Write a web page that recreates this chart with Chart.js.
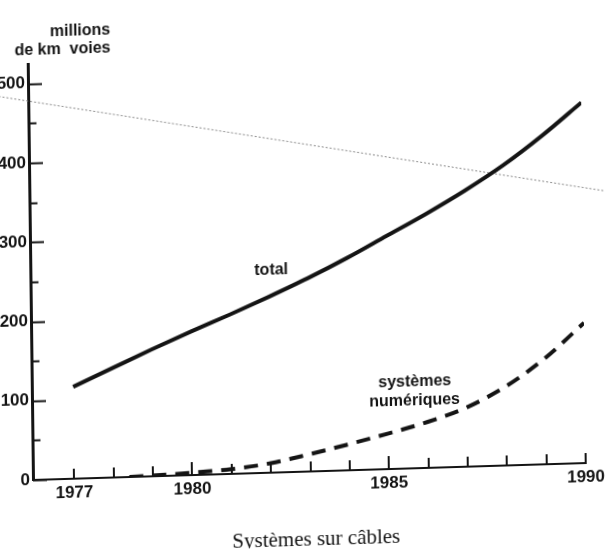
<!DOCTYPE html>
<html lang="fr">
<head>
<meta charset="utf-8">
<title>Systèmes sur câbles</title>
<script src="https://cdn.jsdelivr.net/npm/chart.js@4.4.1/dist/chart.umd.min.js"></script>
<style>
  html, body { margin: 0; padding: 0; background: #fff; overflow: hidden; }
  #wrap { width: 609px; height: 555px; }
  /* the scanned page is a little skewed: x axis rises to the right, y axis leans left */
  #chart { display: block; transform-origin: 33px 480px; transform: matrix(1, -0.0306, 0.0126, 1, 0, 0); }
</style>
</head>
<body>
<div id="wrap"><canvas id="chart" width="609" height="555"></canvas></div>
<script>
const years = [1977, 1978, 1979, 1980, 1981, 1982, 1983, 1984, 1985, 1986, 1987, 1988, 1989, 1990];
const total = [116, 138, 160, 181, 201, 222, 244, 268, 294, 320, 348, 379, 415, 455];

const numYears = [1978.4, 1979, 1980, 1981, 1982, 1983, 1984, 1985, 1986, 1987, 1988, 1989, 1990];
const numeriques = [0, 1, 3, 6, 12, 22, 33, 45, 58, 75, 100, 134, 177];

// faint dotted line running across the scan
const refYears = [1975, 1991.5];
const refLine = [487, 334];

const xLabelYears = [1977, 1980, 1985, 1990];
const yTicks = [0, 50, 100, 150, 200, 250, 300, 350, 400, 450, 500];
const yLabels = [0, 100, 200, 300, 400, 500];

const INK = '#141414';
const SANS = '"Liberation Sans", Arial, sans-serif';

const toPoints = (xs, ys) => xs.map((x, i) => ({x, y: ys[i]}));

const inkPlugin = {
    id: 'ink',
    afterDraw(chart) {
        const {ctx, chartArea, scales: {x, y}} = chart;
        ctx.save();
        ctx.strokeStyle = INK;
        ctx.lineWidth = 2;
        ctx.lineCap = 'butt';

        // tick marks point inwards, like the original drawing
        yTicks.forEach(v => {
            const py = Math.round(y.getPixelForValue(v)) + 0.5;
            const len = yLabels.includes(v) ? 14 : 8;
            ctx.beginPath();
            ctx.moveTo(chartArea.left, py);
            ctx.lineTo(chartArea.left + len, py);
            ctx.stroke();
        });
        years.forEach(v => {
            const px = Math.round(x.getPixelForValue(v));
            const len = (v === 1980 || v === 1985) ? 13 : 10;
            ctx.beginPath();
            ctx.moveTo(px, chartArea.bottom);
            ctx.lineTo(px, chartArea.bottom - len);
            ctx.stroke();
        });

        ctx.fillStyle = INK;
        ctx.font = '700 16px ' + SANS;
        ctx.textBaseline = 'alphabetic';

        // unit, above the y axis
        ctx.textAlign = 'right';
        ctx.fillText('millions', chartArea.left + 83, chartArea.top - 27);
        ctx.fillText('de km  voies', chartArea.left + 83, chartArea.top - 9);

        ctx.textAlign = 'center';
        ctx.textBaseline = 'middle';
        ctx.fillText('total', x.getPixelForValue(1982.07), y.getPixelForValue(256));
        ctx.fillText('systèmes', x.getPixelForValue(1985.68), y.getPixelForValue(109));
        ctx.fillText('numériques', x.getPixelForValue(1985.67), y.getPixelForValue(85));

        ctx.font = '21px "Liberation Serif", "Times New Roman", serif';
        ctx.fillText('Systèmes sur câbles', (chartArea.left + chartArea.right) / 2 + 6, chartArea.bottom + 68);
        ctx.restore();
    }
};

const ctx = document.getElementById('chart').getContext('2d');
const chart = new Chart(ctx, {
    type: 'line',
    data: {
        datasets: [{
            label: 'total',
            data: toPoints(years, total),
            borderColor: INK,
            borderWidth: 4,
            cubicInterpolationMode: 'monotone',
            pointRadius: 0
        }, {
            label: 'systèmes numériques',
            data: toPoints(numYears, numeriques),
            borderColor: INK,
            borderWidth: 4,
            borderDash: [14, 9],
            cubicInterpolationMode: 'monotone',
            pointRadius: 0
        }, {
            label: 'trait',
            data: toPoints(refYears, refLine),
            borderColor: '#8a8a8a',
            borderWidth: 1,
            borderDash: [2, 2],
            pointRadius: 0,
            clip: false
        }]
    },
    options: {
        responsive: false,
        animation: false,
        devicePixelRatio: 1,
        layout: {padding: {top: 64, right: 20, bottom: 0, left: 0}},
        plugins: {
            legend: {display: false},
            tooltip: {enabled: false}
        },
        scales: {
            x: {
                type: 'linear',
                min: 1975.95,
                max: 1990,
                grid: {display: false, drawTicks: false},
                border: {display: true, color: INK, width: 2},
                afterBuildTicks: scale => {
                    scale.ticks = xLabelYears.map(v => ({value: v}));
                },
                afterFit: scale => {
                    scale.height = 75;
                },
                ticks: {
                    autoSkip: false,
                    maxRotation: 0,
                    padding: 4,
                    color: INK,
                    font: {family: SANS, size: 17, weight: '700'},
                    callback: v => String(v)
                }
            },
            y: {
                min: 0,
                max: 525,
                grid: {display: false, drawTicks: false},
                border: {display: true, color: INK, width: 3},
                afterBuildTicks: scale => {
                    scale.ticks = yLabels.map(v => ({value: v}));
                },
                afterFit: scale => {
                    scale.width = 33;
                },
                ticks: {
                    padding: 3,
                    color: INK,
                    font: {family: SANS, size: 17, weight: '700'},
                    callback: v => String(v)
                }
            }
        }
    },
    plugins: [inkPlugin]
});
</script>
</body>
</html>
